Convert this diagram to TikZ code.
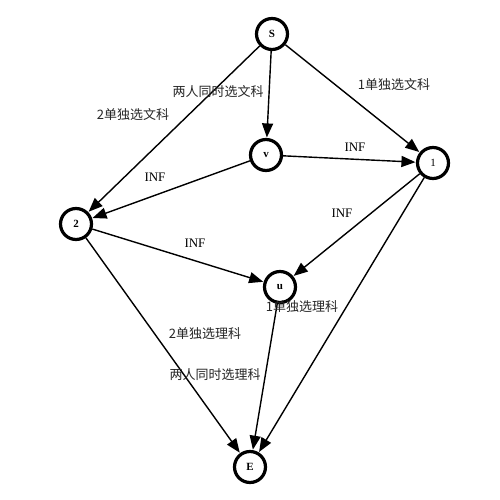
\documentclass[tikz,border=0pt]{standalone}
\usepackage{fontspec}
\setmainfont{Liberation Serif}
\newfontfamily\cjk{Noto Sans CJK SC}
\usetikzlibrary{arrows.meta}
\begin{document}
\begin{tikzpicture}[x=1pt,y=-1pt,
  vtx/.style={circle,draw,line width=3.2pt,minimum size=31pt,inner sep=0pt,font=\bfseries\fontsize{11}{11}\selectfont},
  edge/.style={-{Triangle[length=14pt,width=11pt]},line width=1.4pt,shorten >=0.5pt},
  lab/.style={inner sep=0pt,font=\fontsize{13}{13}\selectfont},
  zh/.style={inner sep=0pt,text=black!85,font=\cjk\fontsize{13}{13}\selectfont}]
\fill[white] (0,0) rectangle (500,500);
\useasboundingbox (0,0) rectangle (500,500);
\node[vtx] (S) at (272,34) {S};
\node[vtx] (v) at (266,155) {v};
\node[vtx,font=\fontsize{11}{11}\selectfont] (n1) at (433,163) {1};
\node[vtx] (n2) at (76,224) {2};
\node[vtx] (u) at (280,287) {u};
\node[vtx] (E) at (250,467) {E};
\draw[edge] (S) -- (v);
\draw[edge] (S) -- (n1);
\draw[edge] (S) -- (n2);
\draw[edge] (v) -- (n1);
\draw[edge] (v) -- (n2);
\draw[edge] (n1) -- (u);
\draw[edge] (n2) -- (u);
\draw[edge] (n2) -- (E);
\draw[edge] (u) -- (E);
\draw[edge] (n1) -- (E);
\node[zh] (l1) at (218,92) {两人同时选文科};
\node[zh] (l2) at (394,85) {1单独选文科};
\node[zh] (l3) at (133,115) {2单独选文科};
\node[lab] (l4) at (355,147) {INF};
\node[lab] (l5) at (155,177) {INF};
\node[lab] (l6) at (195,243) {INF};
\node[lab] (l7) at (342,213) {INF};
\node[zh] (l8) at (302,307) {1单独选理科};
\node[zh] (l9) at (205,334) {2单独选理科};
\node[zh] (l10) at (215,375) {两人同时选理科};
\end{tikzpicture}
\end{document}
